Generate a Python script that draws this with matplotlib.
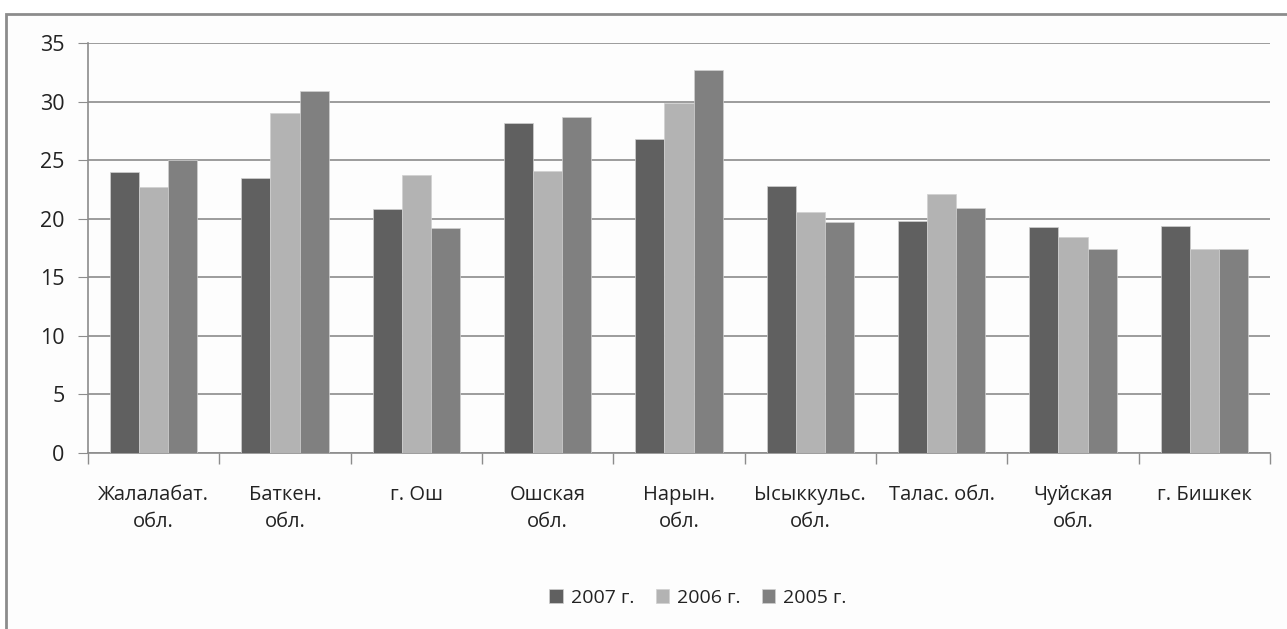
import matplotlib.pyplot as plt
import numpy as np
from matplotlib.patches import Rectangle
from matplotlib.ticker import FixedLocator, NullFormatter

plt.rcParams["font.family"] = ["Open Sans", "DejaVu Sans"]

categories = [
    "Жалалабат.\nобл.",
    "Баткен.\nобл.",
    "г. Ош",
    "Ошская\nобл.",
    "Нарын.\nобл.",
    "Ысыккульс.\nобл.",
    "Талас. обл.",
    "Чуйская\nобл.",
    "г. Бишкек",
]
series_names = ["2007 г.", "2006 г.", "2005 г."]
values_2007 = [24.0, 23.5, 20.8, 28.2, 26.8, 22.8, 19.8, 19.3, 19.4]
values_2006 = [22.7, 29.0, 23.7, 24.1, 29.9, 20.6, 22.1, 18.4, 17.4]
values_2005 = [25.0, 30.9, 19.2, 28.7, 32.7, 19.7, 20.9, 17.4, 17.4]
colors = ["#606060", "#b3b3b3", "#808080"]

W, H = 1287, 629
fig = plt.figure(figsize=(W / 100, H / 100), dpi=100)
fig.patch.set_facecolor("white")

# chart frame (cropped on the right/bottom in the original)
fig.patches.append(Rectangle((6 / W, -0.2), 1.2, 1.2 - 14 / H,
                             transform=fig.transFigure, fill=True,
                             facecolor="#fdfdfd", edgecolor="#8c8c8c",
                             linewidth=2, zorder=-10))

ax = fig.add_axes([88 / W, 1 - 453 / H, (1270 - 88) / W, (453 - 43) / H])
ax.set_facecolor("none")
ax.set_zorder(2)

x = np.arange(len(categories))
bw = 1 / 4.5
for i, (vals, name) in enumerate(zip([values_2007, values_2006, values_2005], series_names)):
    ax.bar(x + (i - 1) * bw, vals, width=bw, color=colors[i], label=name,
           edgecolor="#d0d0d0", linewidth=0.5, zorder=3)

ax.set_xlim(-0.5, len(categories) - 0.5)
ax.set_ylim(0, 35)
ax.set_yticks(range(0, 36, 5))
ax.grid(True, axis="y", color="#8c8c8c", linewidth=1.2, zorder=1)
ax.tick_params(axis="y", length=7, color="#8c8c8c", labelsize=15.5, pad=10, labelcolor="#222222")

ax.set_xticks(x)
ax.set_xticklabels(categories, fontsize=14.5, color="#222222", va="top", linespacing=1.5)
ax.tick_params(axis="x", which="major", length=0, pad=23)
ax.xaxis.set_minor_locator(FixedLocator(np.arange(-0.5, len(categories), 1.0)))
ax.xaxis.set_minor_formatter(NullFormatter())
ax.tick_params(axis="x", which="minor", length=8, color="#8c8c8c", width=1)

for side in ["top", "right"]:
    ax.spines[side].set_visible(False)
ax.spines["left"].set_color("#8c8c8c")
ax.spines["bottom"].set_color("#8c8c8c")
ax.spines["left"].set_linewidth(1.2)
ax.spines["bottom"].set_linewidth(1.2)

fig.legend(loc="center", bbox_to_anchor=(698 / W, 1 - 598 / H), ncol=3, frameon=False,
           fontsize=14, handlelength=0.7, handleheight=0.7, handletextpad=0.4,
           columnspacing=1.1, labelcolor="#222222")

fig.savefig("out.png", dpi=100)
